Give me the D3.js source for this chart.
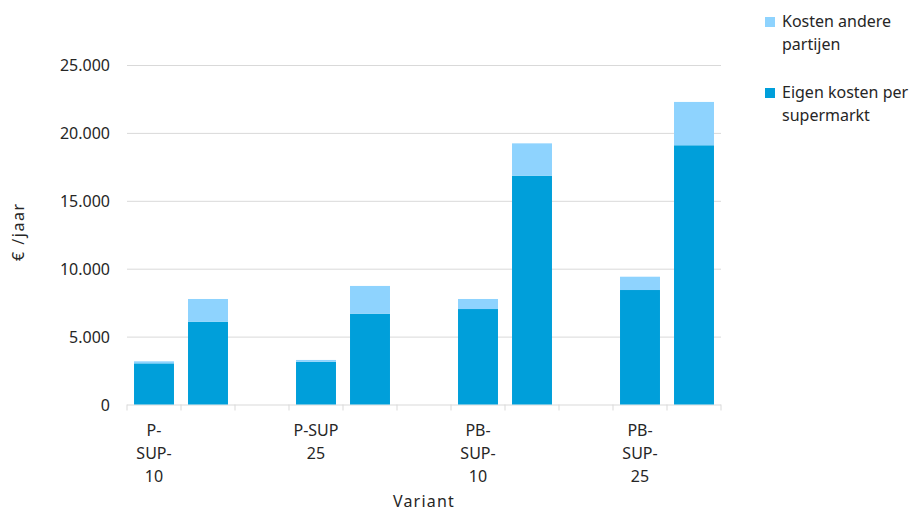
<!DOCTYPE html>
<html lang="nl">
<head>
<meta charset="utf-8">
<title>Kosten per variant</title>
<script src="https://cdn.jsdelivr.net/npm/d3@7/dist/d3.min.js"></script>
<style>
  body { margin: 0; background: #fff; }
  svg text { font-family: "Noto Sans", "Open Sans", sans-serif; fill: #262626; }
  .grid line { stroke: #d9d9d9; }
  .grid .domain { display: none; }
</style>
</head>
<body>
<script>
// data
var groups = ["P-SUP-10", "P-SUP 25", "PB-SUP-10", "PB-SUP-25"];
var labelLines = [["P-", "SUP-", "10"], ["P-SUP", "25"], ["PB-", "SUP-", "10"], ["PB-", "SUP-", "25"]];
var eigen  = [3030, 6100, 3150, 6690, 7030, 16850, 8430, 19090];
var andere = [150, 1670, 130, 2040, 740, 2380, 980, 3190];
var yTicks = [0, 5000, 10000, 15000, 20000, 25000];
var seriesNames = ["Kosten andere partijen", "Eigen kosten per supermarkt"];
var seriesColors = ["#8ed3fe", "#009fda"];
var legendLines = [["Kosten andere", "partijen"], ["Eigen kosten per", "supermarkt"]];

var width = 910, height = 512;
var x0 = 127, x1 = 721, yTop = 65, yBase = 404.5;

var svg = d3.select("body").append("svg")
  .attr("width", width)
  .attr("height", height);

// 11 slots: two bars per group, one empty slot between groups
var slotCount = groups.length * 3 - 1;
var x = d3.scaleBand()
  .domain(d3.range(slotCount))
  .range([x0, x1])
  .paddingInner(0.26)
  .paddingOuter(0.13);

var y = d3.scaleLinear().domain([0, 25000]).range([yBase, yTop]);

var nl = d3.formatLocale({ decimal: ",", thousands: ".", grouping: [3], currency: ["€", ""] });
var fmt = nl.format(",.0f");

// gridlines + y labels
var gy = svg.append("g")
  .attr("class", "grid")
  .attr("transform", "translate(" + x0 + ",0)")
  .call(d3.axisLeft(y).tickValues(yTicks).tickSize(-(x1 - x0)).tickPadding(17).tickFormat(fmt));
gy.selectAll("text").attr("font-size", 16).attr("dy", "0.36em");
gy.selectAll(".tick line").attr("stroke", "#d9d9d9");

// bottom ticks at slot boundaries
var step = (x1 - x0) / slotCount;
svg.append("g").selectAll("line")
  .data(d3.range(slotCount + 1))
  .enter().append("line")
  .attr("x1", function (d) { return x0 + d * step; })
  .attr("x2", function (d) { return x0 + d * step; })
  .attr("y1", yBase)
  .attr("y2", yBase + 6)
  .attr("stroke", "#d9d9d9");

// bars
var bars = eigen.map(function (v, i) {
  var g = Math.floor(i / 2);
  return { slot: g * 3 + (i % 2), eigen: v, andere: andere[i] };
});

var bw = x.bandwidth();
var xb = function (d) { return x0 + (d.slot + 0.5) * step - bw / 2; };

svg.append("g").selectAll("rect")
  .data(bars)
  .enter().append("rect")
  .attr("x", xb)
  .attr("width", bw)
  .attr("y", function (d) { return y(d.eigen); })
  .attr("height", function (d) { return yBase - y(d.eigen); })
  .attr("fill", seriesColors[1]);

svg.append("g").selectAll("rect")
  .data(bars)
  .enter().append("rect")
  .attr("x", xb)
  .attr("width", bw)
  .attr("y", function (d) { return y(d.eigen + d.andere); })
  .attr("height", function (d) { return y(d.eigen) - y(d.eigen + d.andere); })
  .attr("fill", seriesColors[0]);

// category labels under first bar of each group
var cat = svg.append("g").selectAll("text")
  .data(groups)
  .enter().append("text")
  .attr("text-anchor", "middle")
  .attr("font-size", 16)
  .attr("x", function (d, i) { return x0 + (i * 3 + 0.5) * step; })
  .attr("y", 436);
cat.selectAll("tspan")
  .data(function (d, i) { return labelLines[i]; })
  .enter().append("tspan")
  .attr("x", function () { return d3.select(this.parentNode).attr("x"); })
  .attr("dy", function (d, i) { return i === 0 ? 0 : 23; })
  .text(function (d) { return d; });

// axis titles
svg.append("text")
  .attr("x", (x0 + x1) / 2)
  .attr("y", 507)
  .attr("text-anchor", "middle")
  .attr("font-size", 16)
  .attr("letter-spacing", 1.2)
  .text("Variant");

svg.append("text")
  .attr("transform", "translate(24," + ((yTop + yBase) / 2 - 3) + ") rotate(-90)")
  .attr("text-anchor", "middle")
  .attr("font-size", 16)
  .attr("letter-spacing", 1.5)
  .text("€ /jaar");

// legend
var leg = svg.append("g").selectAll("g")
  .data(seriesNames)
  .enter().append("g")
  .attr("transform", function (d, i) { return "translate(765," + (17 + i * 71) + ")"; });
leg.append("rect")
  .attr("width", 10).attr("height", 10)
  .attr("fill", function (d, i) { return seriesColors[i]; });
leg.append("text")
  .attr("font-size", 16)
  .attr("x", 17)
  .attr("y", 10)
  .selectAll("tspan")
  .data(function (d, i) { return legendLines[i]; })
  .enter().append("tspan")
  .attr("x", 17)
  .attr("dy", function (d, i) { return i === 0 ? 0 : 23; })
  .text(function (d) { return d; });
</script>
</body>
</html>
